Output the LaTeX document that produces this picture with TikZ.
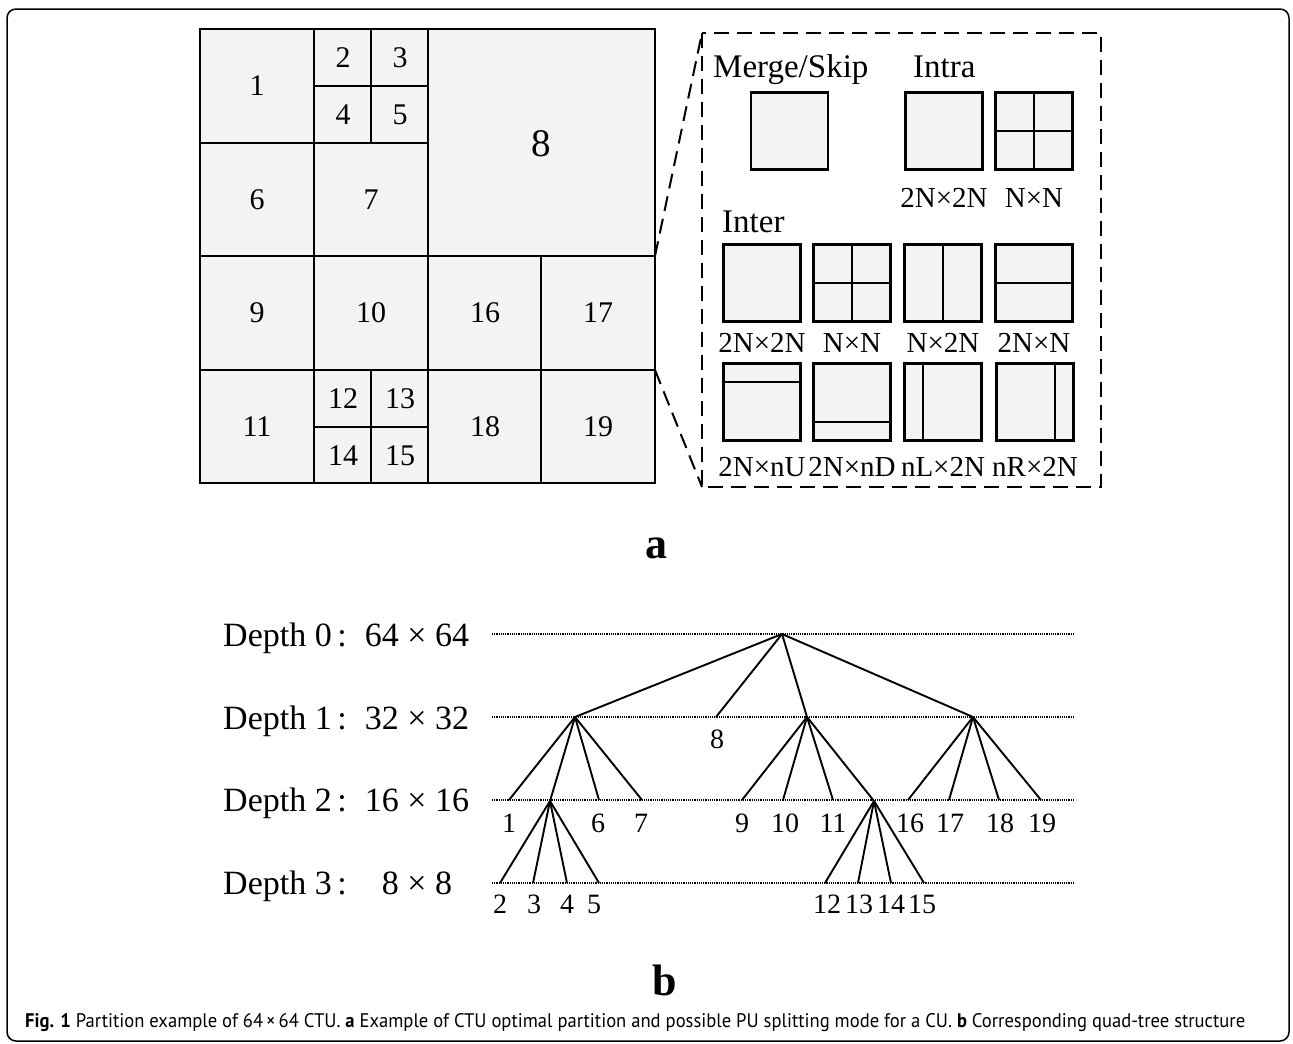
\documentclass[tikz,border=0pt]{standalone}
\usepackage{fontspec}
\setmainfont{Liberation Serif}
\setsansfont{PT Sans}
\usepackage{graphicx}
\usetikzlibrary{calc}
\definecolor{cellgray}{HTML}{F3F3F3}
\tikzset{
  gridline/.style={line width=2.4pt, line cap=rect},
  cellnum/.style={font=\fontsize{30}{32}\selectfont, inner sep=0pt},
  bignum/.style={font=\fontsize{39}{40}\selectfont, inner sep=0pt},
  pubox/.style={draw, fill=cellgray, line width=2.4pt, minimum width=77pt, minimum height=77pt, inner sep=0pt},
  pulabel/.style={font=\fontsize{29}{30}\selectfont, inner sep=0pt},
  puhead/.style={font=\fontsize{33}{35}\selectfont, inner sep=0pt, anchor=base west},
  zoomline/.style={dash pattern=on 15pt off 8pt, line width=2pt},
  treeedge/.style={line width=1.9pt},
  levelline/.style={line width=1.6pt, dash pattern=on 1.1pt off 1.1pt},
  depthtext/.style={font=\fontsize{34}{36}\selectfont, inner sep=0pt, anchor=base west},
  sizetext/.style={font=\fontsize{34}{36}\selectfont, inner sep=0pt, anchor=base},
  leaf/.style={font=\fontsize{28}{29}\selectfont, inner sep=0pt},
  panel/.style={font=\bfseries\fontsize{44}{46}\selectfont, inner sep=0pt, anchor=base},
}
\begin{document}
\begin{tikzpicture}[x=1pt, y=-1pt]
\useasboundingbox (0,0) rectangle (1293,1044);
\fill[white] (0,0) rectangle (1293,1044);
% outer frame
\draw[line width=1.5pt, rounded corners=9pt] (7,9) rectangle (1289,1041);

% ---------- CTU partition ----------
\fill[cellgray] (200,29) rectangle (655,483);
\draw[gridline] (200,29) rectangle (655,483);
\draw[gridline] (314,29) -- (314,483);
\draw[gridline] (428,29) -- (428,483);
\draw[gridline] (541,256) -- (541,483);
\draw[gridline] (200,143) -- (428,143);
\draw[gridline] (200,256) -- (655,256);
\draw[gridline] (200,370) -- (655,370);
\draw[gridline] (371,29) -- (371,143);
\draw[gridline] (314,86) -- (428,86);
\draw[gridline] (371,370) -- (371,483);
\draw[gridline] (314,427) -- (428,427);

\node[cellnum] (c1) at (257,86) {1};
\node[cellnum] (c2) at (343,58) {2};
\node[cellnum] (c3) at (400,58) {3};
\node[cellnum] (c4) at (343,115) {4};
\node[cellnum] (c5) at (400,115) {5};
\node[cellnum] (c6) at (257,200) {6};
\node[cellnum] (c7) at (371,200) {7};
\node[bignum]  (c8) at (541,144) {8};
\node[cellnum] (c9) at (257,313) {9};
\node[cellnum] (c10) at (371,313) {10};
\node[cellnum] (c16) at (485,313) {16};
\node[cellnum] (c17) at (598,313) {17};
\node[cellnum] (c11) at (257,427) {11};
\node[cellnum] (c12) at (343,399) {12};
\node[cellnum] (c13) at (400,399) {13};
\node[cellnum] (c14) at (343,456) {14};
\node[cellnum] (c15) at (400,456) {15};
\node[cellnum] (c18) at (485,427) {18};
\node[cellnum] (c19) at (598,427) {19};

% ---------- PU splitting modes ----------
\coordinate (ctuA) at (655,256);
\coordinate (ctuB) at (655,370);
\coordinate (boxNW) at (702,33);
\coordinate (boxSE) at (1101,487);
\coordinate (boxSW) at (702,487);
\draw[zoomline] (boxNW) rectangle (boxSE);
\draw[zoomline] (ctuA) -- (boxNW);
\draw[zoomline] (ctuB) -- (boxSW);

\node[puhead] (hmerge) at (713,77) {Merge/Skip};
\node[puhead] (hintra) at (913,77) {Intra};
\node[puhead] (hinter) at (722,232) {Inter};

\node[pubox] (merge) at (789.5,131) {};
\node[pubox] (intraA) at (944,131) {};
\node[pubox] (intraB) at (1034,131) {};
\draw[line width=2.4pt] (intraB.north) -- (intraB.south) (intraB.west) -- (intraB.east);
\node[pulabel] (lintraA) at (944,198) {2N×2N};
\node[pulabel] (lintraB) at (1034,198) {N×N};

\node[pubox] (interA) at (762,283) {};
\node[pubox] (interB) at (852,283) {};
\node[pubox] (interC) at (943,283) {};
\node[pubox] (interD) at (1034,283) {};
\draw[line width=2.4pt] (interB.north) -- (interB.south) (interB.west) -- (interB.east);
\draw[line width=2.4pt] (interC.north) -- (interC.south);
\draw[line width=2.4pt] (interD.west) -- (interD.east);
\node[pulabel] (linterA) at (762,343) {2N×2N};
\node[pulabel] (linterB) at (852,343) {N×N};
\node[pulabel] (linterC) at (943,343) {N×2N};
\node[pulabel] (linterD) at (1034,343) {2N×N};

\node[pubox] (amp1) at (762,402) {};
\node[pubox] (amp2) at (852,402) {};
\node[pubox] (amp3) at (943,402) {};
\node[pubox] (amp4) at (1035,402) {};
\draw[line width=2.4pt] ($(amp1.north west)!0.25!(amp1.south west)$) -- ($(amp1.north east)!0.25!(amp1.south east)$);
\draw[line width=2.4pt] ($(amp2.north west)!0.75!(amp2.south west)$) -- ($(amp2.north east)!0.75!(amp2.south east)$);
\draw[line width=2.4pt] ($(amp3.north west)!0.25!(amp3.north east)$) -- ($(amp3.south west)!0.25!(amp3.south east)$);
\draw[line width=2.4pt] ($(amp4.north west)!0.75!(amp4.north east)$) -- ($(amp4.south west)!0.75!(amp4.south east)$);
\node[pulabel] (lamp1) at (762,467) {2N×nU};
\node[pulabel] (lamp2) at (852,467) {2N×nD};
\node[pulabel] (lamp3) at (943,467) {nL×2N};
\node[pulabel] (lamp4) at (1035,467) {nR×2N};

\node[panel] (pa) at (656,558) {a};

% ---------- quad-tree ----------
\foreach \y/\d/\s in {646/0/64 × 64, 729/1/32 × 32, 811/2/16 × 16, 894/3/8 × 8}{
  \node[depthtext] at (223,\y) {Depth \d\,:};
  \node[sizetext] at (417,\y) {\s};
}
\foreach \y in {634,717,800,883}
  \draw[levelline] (492,\y) -- (1073,\y);

\coordinate (root) at (782,634);
\coordinate (nA) at (575,717);
\coordinate (n8) at (716,717);
\coordinate (nB) at (807,717);
\coordinate (nC) at (973,717);
\coordinate (n1) at (509,800);
\coordinate (nA2) at (550,801);
\coordinate (n6) at (599,800);
\coordinate (n7) at (642,800);
\coordinate (n2) at (500,883);
\coordinate (n3) at (533,883);
\coordinate (n4) at (567,883);
\coordinate (n5) at (599,883);
\coordinate (n9) at (742,800);
\coordinate (n10) at (783,800);
\coordinate (n11) at (833,800);
\coordinate (nB2) at (874,801);
\coordinate (n12) at (825,883);
\coordinate (n13) at (858,883);
\coordinate (n14) at (891,883);
\coordinate (n15) at (924,883);
\coordinate (n16) at (908,800);
\coordinate (n17) at (949,800);
\coordinate (n18) at (999,800);
\coordinate (n19) at (1041,800);

\foreach \c in {nA,n8,nB,nC} \draw[treeedge] (root) -- (\c);
\foreach \c in {n1,nA2,n6,n7} \draw[treeedge] (nA) -- (\c);
\foreach \c in {n2,n3,n4,n5} \draw[treeedge] (nA2) -- (\c);
\foreach \c in {n9,n10,n11,nB2} \draw[treeedge] (nB) -- (\c);
\foreach \c in {n12,n13,n14,n15} \draw[treeedge] (nB2) -- (\c);
\foreach \c in {n16,n17,n18,n19} \draw[treeedge] (nC) -- (\c);

\node[leaf] (t8) at (717,739) {8};
\node[leaf] (t1) at (509,823) {1};
\node[leaf] (t6) at (598,823) {6};
\node[leaf] (t7) at (641,823) {7};
\node[leaf] (t9) at (742,823) {9};
\node[leaf] (t10) at (785,823) {10};
\node[leaf] (t11) at (833,823) {11};
\node[leaf] (t16) at (910,823) {16};
\node[leaf] (t17) at (950,823) {17};
\node[leaf] (t18) at (1000,823) {18};
\node[leaf] (t19) at (1042,823) {19};
\node[leaf] (t2) at (500,904) {2};
\node[leaf] (t3) at (534,904) {3};
\node[leaf] (t4) at (567,904) {4};
\node[leaf] (t5) at (594,904) {5};
\node[leaf] (t12) at (827,904) {12};
\node[leaf] (t13) at (859,904) {13};
\node[leaf] (t14) at (891,904) {14};
\node[leaf] (t15) at (922,904) {15};

\node[panel] (pb) at (665,995) {b};

% ---------- caption ----------
\node[anchor=base west, inner sep=0pt] (caption) at (25,1027)
  {\resizebox{1220pt}{14pt}{\sffamily\fontsize{20}{22}\selectfont\textbf{Fig. 1} Partition example of 64\,×\,64 CTU. \textbf{a} Example of CTU optimal partition and possible PU splitting mode for a CU. \textbf{b} Corresponding quad-tree structure}};
\end{tikzpicture}
\end{document}
